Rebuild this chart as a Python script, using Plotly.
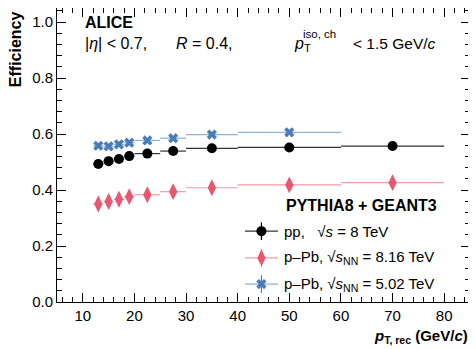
import plotly.graph_objects as go

# ---- data ----
pt_centers = [13, 15, 17, 19, 22.5, 27.5, 35, 50, 70]
pt_halfwidth = [1, 1, 1, 1, 2.5, 2.5, 5, 10, 10]

eff_pp = [0.493, 0.503, 0.511, 0.521, 0.530, 0.539, 0.549, 0.552, 0.557]
eff_pp_err = [0.004, 0.004, 0.004, 0.004, 0.003, 0.003, 0.003, 0.003, 0.004]

eff_ppb816 = [0.350, 0.359, 0.367, 0.376, 0.383, 0.394, 0.408, 0.418, 0.426]
eff_ppb816_err = [0.006, 0.006, 0.006, 0.006, 0.005, 0.005, 0.005, 0.005, 0.006]

pt_centers_502 = [13, 15, 17, 19, 22.5, 27.5, 35, 50]
pt_halfwidth_502 = [1, 1, 1, 1, 2.5, 2.5, 5, 10]
eff_ppb502 = [0.558, 0.556, 0.563, 0.569, 0.577, 0.585, 0.598, 0.606]
eff_ppb502_err = [0.004, 0.004, 0.004, 0.004, 0.003, 0.003, 0.003, 0.003]

labels = ["pp,   √<i>s</i> = 8 TeV",
          "p–Pb, √<i>s</i><sub>NN</sub> = 8.16 TeV",
          "p–Pb, √<i>s</i><sub>NN</sub> = 5.02 TeV"]
legend_header = "<b>PYTHIA8 + GEANT3</b>"

FONT = "Liberation Sans, Arial, Helvetica, sans-serif"
BLACK = "#000000"
PINK = "#e8566f"
PINK_L = "#f29aa9"
BLUE = "#4a7db8"
BLUE_L = "#8eb0d6"

styles = [
    dict(mcol=BLACK, lcol="#333333", symbol="circle", size=10),
    dict(mcol=PINK, lcol=PINK_L, symbol="diamond-tall", size=12),
    dict(mcol=BLUE, lcol=BLUE_L, symbol="x", size=9),
]

fig = go.Figure()

def add_series(x, xe, y, ye, name, st):
    fig.add_trace(go.Scatter(
        x=x, y=y, mode="markers", name=name,
        marker=dict(color=st["mcol"], symbol=st["symbol"], size=st["size"], line=dict(width=0)),
        error_x=dict(type="data", array=xe, symmetric=True, color=st["lcol"], thickness=1.2, width=0),
        error_y=dict(type="data", array=ye, symmetric=True, color=st["mcol"], thickness=1.2, width=0),
        showlegend=False,
    ))

add_series(pt_centers, pt_halfwidth, eff_pp, eff_pp_err, labels[0], styles[0])
add_series(pt_centers, pt_halfwidth, eff_ppb816, eff_ppb816_err, labels[1], styles[1])
add_series(pt_centers_502, pt_halfwidth_502, eff_ppb502, eff_ppb502_err, labels[2], styles[2])

# ---- manual ROOT-style legend on a hidden overlay axis (0..1 across plot area) ----
leg_x_line = (0.455, 0.535)
leg_x_mark = 0.495
leg_x_text = 0.545
leg_ys = [0.241, 0.150, 0.061]
leg_ey = 0.030
for name, st, ly in zip(labels, styles, leg_ys):
    fig.add_trace(go.Scatter(
        x=list(leg_x_line), y=[ly, ly], mode="lines", xaxis="x2", yaxis="y2",
        line=dict(color=st["lcol"], width=1.2), showlegend=False, hoverinfo="skip"))
    fig.add_trace(go.Scatter(
        x=[leg_x_mark], y=[ly], mode="markers", xaxis="x2", yaxis="y2",
        marker=dict(color=st["mcol"], symbol=st["symbol"], size=st["size"], line=dict(width=0)),
        error_y=dict(type="constant", value=leg_ey, color=st["mcol"], thickness=1.2, width=0),
        showlegend=False, hoverinfo="skip"))

axis_common = dict(
    showline=True, linecolor="black", linewidth=1, mirror="allticks",
    ticks="inside", ticklen=9, tickwidth=1, tickcolor="black",
    showgrid=False, zeroline=False,
    tickfont=dict(family=FONT, size=15, color="black"),
)

fig.update_xaxes(range=[5, 85], dtick=10, tick0=0,
                 minor=dict(ticks="inside", ticklen=5, dtick=2, tickcolor="black", tickwidth=1),
                 **axis_common)
fig.update_yaxes(range=[0, 1.05], dtick=0.2, tick0=0, tickformat=".1f",
                 minor=dict(ticks="inside", ticklen=5, dtick=0.04, tickcolor="black", tickwidth=1),
                 **axis_common)

annots = [
    dict(text="<b>ALICE</b>", x=0.063, y=0.952, yanchor="middle", font=dict(size=16)),
    dict(text="|<i>η</i>| < 0.7,", x=0.063, y=0.880, yanchor="middle", font=dict(size=16)),
    dict(text="<i>R</i> = 0.4,", x=0.283, y=0.880, yanchor="middle", font=dict(size=16)),
    dict(text="<i>p</i><sub>T</sub>", x=0.570, y=0.876, yanchor="middle", font=dict(size=16)),
    dict(text="iso, ch", x=0.592, y=0.912, yanchor="middle", font=dict(size=11.5)),
    dict(text="< 1.5 GeV/<i>c</i>", x=0.712, y=0.880, yanchor="middle", font=dict(size=15.5)),
    dict(text=legend_header, x=0.738, y=0.327, xanchor="center", yanchor="middle", font=dict(size=16)),
]
for name, ly in zip(labels, leg_ys):
    annots.append(dict(text=name, x=leg_x_text, y=ly, yanchor="middle"))
for a in annots:
    a.setdefault("xanchor", "left")
    a.update(xref="paper", yref="paper", showarrow=False)
    a.setdefault("font", dict(size=15))
annots.append(dict(text="<b>Efficiency</b>", x=-0.1, y=0.995, xref="paper", yref="paper",
                   xanchor="center", yanchor="top", textangle=-90, showarrow=False,
                   font=dict(size=16)))
annots.append(dict(text="<b><i>p</i><sub>T, rec</sub> (GeV/<i>c</i>)</b>", x=1.0, y=-0.117,
                   xref="paper", yref="paper", xanchor="right", yanchor="middle",
                   showarrow=False, font=dict(size=15)))

# the page body adds an 8px offset, so the figure is sized 8px smaller
fig.update_layout(
    width=468, height=341,
    margin=dict(l=49, r=6, t=0, b=47),
    plot_bgcolor="white", paper_bgcolor="white",
    font=dict(family=FONT, size=15, color="black"),
    showlegend=False,
    xaxis2=dict(overlaying="x", range=[0, 1], visible=False, fixedrange=True),
    yaxis2=dict(overlaying="y", range=[0, 1], visible=False, fixedrange=True),
    annotations=annots,
)

fig.write_html("out.html")
